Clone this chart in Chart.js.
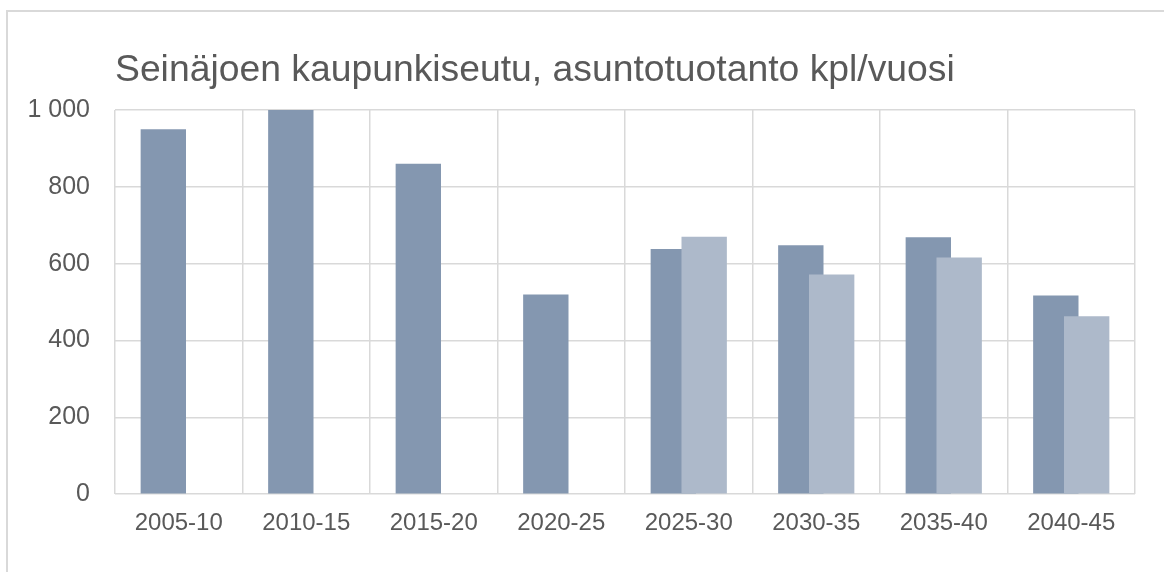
<!DOCTYPE html>
<html>
<head>
<meta charset="utf-8">
<script src="https://cdn.jsdelivr.net/npm/chart.js@4/dist/chart.umd.min.js"></script>
<style>
  html, body { margin: 0; padding: 0; background: #fff; overflow: hidden; }
  #frame { position: absolute; left: 6px; top: 10px; width: 1200px; height: 600px; border: 2px solid #D9D9D9; box-sizing: border-box; }
  #wrap { position: absolute; left: 0; top: 0; width: 1164px; height: 572px; }
</style>
</head>
<body>
<div id="frame"></div>
<div id="wrap"><canvas id="chart"></canvas></div>
<script>
// Jaksot ja asuntotuotanto kpl/vuosi
const categories = ['2005-10', '2010-15', '2015-20', '2020-25', '2025-30', '2030-35', '2035-40', '2040-45'];
const seriesDark = [950, 1000, 860, 520, 638, 648, 669, 517];
const seriesLight = [null, null, null, null, 670, 572, 616, 463];
const yTicks = [0, 200, 400, 600, 800, 1000];

const textColor = '#595959';
const gridColor = '#D9D9D9';
const font = '"Liberation Sans", Arial, sans-serif';

// Excel piirtää jälkimmäisen sarjan päälle, Chart.js toisin päin
const drawInOrder = {
  id: 'drawInOrder',
  beforeDatasetsDraw(chart) {
    chart.getSortedVisibleDatasetMetas().forEach(meta => meta.controller.draw());
    return false;
  }
};

const ctx = document.getElementById('chart').getContext('2d');
new Chart(ctx, {
  type: 'bar',
  data: {
    labels: categories,
    datasets: [{
      label: 'Sarja 1',
      data: seriesDark,
      backgroundColor: '#8497B0',
      categoryPercentage: 0.484,
      barPercentage: 1.47
    }, {
      label: 'Sarja 2',
      data: seriesLight,
      backgroundColor: '#ADB9CA',
      categoryPercentage: 0.484,
      barPercentage: 1.47
    }]
  },
  options: {
    responsive: true,
    maintainAspectRatio: false,
    animation: false,
    layout: { padding: { left: 0, right: 29, top: 0, bottom: 19 } },
    plugins: {
      legend: { display: false },
      tooltip: { enabled: false },
      title: {
        display: true,
        text: 'Seinäjoen kaupunkiseutu, asuntotuotanto kpl/vuosi',
        align: 'start',
        fullSize: false,
        color: textColor,
        font: { family: font, size: 37.3, weight: 'normal', lineHeight: 1.2 },
        padding: { top: 48, bottom: 17.2 }
      }
    },
    scales: {
      x: {
        grid: { color: gridColor, lineWidth: 1.5, drawTicks: false, offset: true },
        border: { display: false },
        ticks: { color: textColor, font: { family: font, size: 24 }, padding: 15, maxRotation: 0 }
      },
      y: {
        min: 0,
        max: 1000,
        afterBuildTicks: axis => { axis.ticks = yTicks.map(v => ({ value: v })); },
        afterFit: axis => { axis.width = 115; },
        grid: { color: gridColor, lineWidth: 1.5, drawTicks: false },
        border: { display: false },
        ticks: {
          color: textColor,
          font: { family: font, size: 25 },
          padding: 25,
          callback: v => String(v).replace(/\B(?=(\d{3})+(?!\d))/g, ' ')
        }
      }
    }
  },
  plugins: [drawInOrder]
});
</script>
</body>
</html>
